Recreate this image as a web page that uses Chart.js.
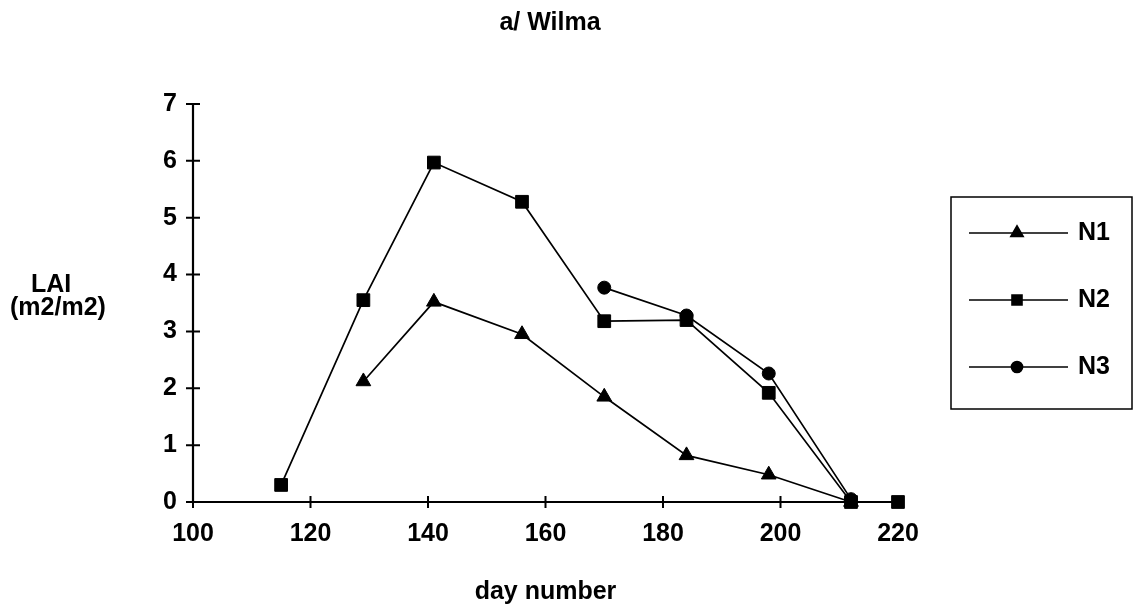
<!DOCTYPE html>
<html>
<head>
<meta charset="utf-8">
<script src="https://cdn.jsdelivr.net/npm/chart.js@4.4.1/dist/chart.umd.min.js"></script>
<style>
html,body{margin:0;padding:0;background:#fff;}
</style>
</head>
<body>
<canvas id="myChart" width="1136" height="615"></canvas>
<script>
// LAI per nitrogen level, by day number
const n1Days=[129,141,156,170,184,198,212];
const n1Lai=[2.12,3.52,2.95,1.85,0.82,0.48,0];
const n2Days=[115,129,141,156,170,184,198,212,220];
const n2Lai=[0.3,3.55,5.97,5.28,3.18,3.2,1.92,0,0];
const n3Days=[170,184,198,212];
const n3Lai=[3.77,3.28,2.26,0.05];
const seriesNames=['N1','N2','N3'];
const seriesMarkers=['triangle','rect','circle'];
const xTicks=[100,120,140,160,180,200,220];
const yTicks=[0,1,2,3,4,5,6,7];

const FONT="'Liberation Sans', Arial, Helvetica, sans-serif";
Chart.defaults.font.family=FONT;
Chart.defaults.font.size=25;
Chart.defaults.font.weight='bold';
Chart.defaults.color='#000';

function toPoints(days,vals)
{
  let pts=[];
  for(var i=0;i<days.length;i++)
    pts.push({x:days[i],y:vals[i]});
  return pts;
}

function makeSet(i,days,vals,radius)
{
  return {
    label:seriesNames[i],
    data:toPoints(days,vals),
    borderColor:'#000',
    backgroundColor:'#000',
    borderWidth:1.7,
    pointStyle:seriesMarkers[i],
    pointRadius:radius,
    pointBorderWidth:1,
    pointBackgroundColor:'#000',
    pointBorderColor:'#000',
    tension:0,
    clip:false
  };
}

// axes with ticks crossing the line, plus the free text
const axesAndText={
  id:'axesAndText',
  beforeDatasetsDraw(chart)
  {
    const ctx=chart.ctx;
    const xs=chart.scales.x, ys=chart.scales.y;
    const x0=xs.getPixelForValue(100), x1=xs.getPixelForValue(220);
    const y0=ys.getPixelForValue(0), y1=ys.getPixelForValue(7);
    ctx.save();
    ctx.strokeStyle='#000';
    ctx.lineWidth=2.2;
    ctx.beginPath();
    ctx.moveTo(x0,y1); ctx.lineTo(x0,y0);
    ctx.moveTo(x0,y0); ctx.lineTo(x1,y0);
    ctx.stroke();
    ctx.lineWidth=2;
    ctx.beginPath();
    for(var i=0;i<yTicks.length;i++)
    {
      const y=ys.getPixelForValue(yTicks[i]);
      ctx.moveTo(x0-7,y); ctx.lineTo(x0+7,y);
    }
    for(var j=0;j<xTicks.length;j++)
    {
      const x=xs.getPixelForValue(xTicks[j]);
      ctx.moveTo(x,y0-6); ctx.lineTo(x,y0+6);
    }
    ctx.stroke();
    ctx.restore();
  },
  afterDraw(chart)
  {
    const ctx=chart.ctx;
    ctx.save();
    ctx.fillStyle='#000';
    ctx.font='bold 25px '+FONT;
    ctx.textBaseline='middle';
    ctx.textAlign='center';
    ctx.fillText('a/ Wilma',550,23);
    ctx.textAlign='left';
    ctx.fillText('LAI',31,285);
    ctx.fillText('(m2/m2)',10,308);

    // legend box
    ctx.lineWidth=1.5;
    ctx.strokeRect(951,197,181,212);
    const rows=[233,300,367];
    const sizes=[7,7,5.5];
    for(var i=0;i<chart.data.datasets.length;i++)
    {
      const ds=chart.data.datasets[i];
      ctx.lineWidth=1.7;
      ctx.beginPath();
      ctx.moveTo(969,rows[i]); ctx.lineTo(1068,rows[i]);
      ctx.stroke();
      Chart.helpers.drawPoint(ctx,{pointStyle:ds.pointStyle,radius:sizes[i],rotation:0,borderWidth:1},1017,rows[i]);
      ctx.fill();
      ctx.fillText(ds.label,1078,rows[i]);
    }
    ctx.restore();
  }
};

const ctx=document.getElementById('myChart').getContext('2d');
const myChart=new Chart(ctx,{
  type:'line',
  data:{
    datasets:[
      makeSet(0,n1Days,n1Lai,8.5),
      makeSet(1,n2Days,n2Lai,9),
      makeSet(2,n3Days,n3Lai,6.5)
    ]
  },
  options:{
    responsive:false,
    devicePixelRatio:1,
    animation:false,
    layout:{padding:{top:104,right:238,bottom:0,left:0}},
    plugins:{legend:{display:false},title:{display:false},tooltip:{enabled:false}},
    scales:{
      x:{
        type:'linear',
        min:100,max:220,
        afterBuildTicks:(s)=>{s.ticks=xTicks.map(v=>({value:v}));},
        afterFit:(s)=>{s.height=113;},
        grid:{display:false,drawTicks:false},
        border:{display:false},
        ticks:{padding:17,maxRotation:0},
        title:{display:true,text:'day number',padding:{top:0,bottom:8}}
      },
      y:{
        min:0,max:7,
        afterBuildTicks:(s)=>{s.ticks=yTicks.map(v=>({value:v}));},
        afterFit:(s)=>{s.width=193;},
        grid:{display:false,drawTicks:false},
        border:{display:false},
        ticks:{padding:16}
      }
    }
  },
  plugins:[axesAndText]
});
</script>
</body>
</html>
